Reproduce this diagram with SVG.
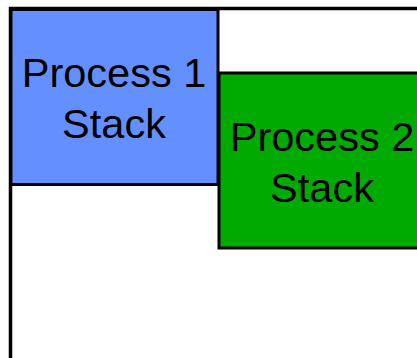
<svg xmlns="http://www.w3.org/2000/svg" width="417" height="358" viewBox="0 0 417 358">
  <style>
    .frame { fill: #ffffff; stroke: #000000; stroke-width: 3.5; }
    .box { stroke: #000000; stroke-width: 3; }
    .label { font-family: "Liberation Sans", Arial, sans-serif; font-size: 41.5px; fill: #000000; text-anchor: middle; }
  </style>
  <rect width="417" height="358" fill="#ffffff"/>
  <!-- address space frame, continuing past the right and bottom edges -->
  <rect class="frame" x="10.5" y="8.5" width="440" height="380"/>
  <g id="process1-stack">
    <rect class="box" x="11" y="9.5" width="207" height="175" fill="#648FFF"/>
    <text class="label" x="114" y="87">Process 1</text>
    <text class="label" x="114" y="138">Stack</text>
  </g>
  <g id="process2-stack">
    <rect class="box" x="219" y="73" width="207" height="175" fill="#00AA00"/>
    <text class="label" x="322" y="151">Process 2</text>
    <text class="label" x="322" y="202">Stack</text>
  </g>
  <g id="connectors"/>
</svg>
